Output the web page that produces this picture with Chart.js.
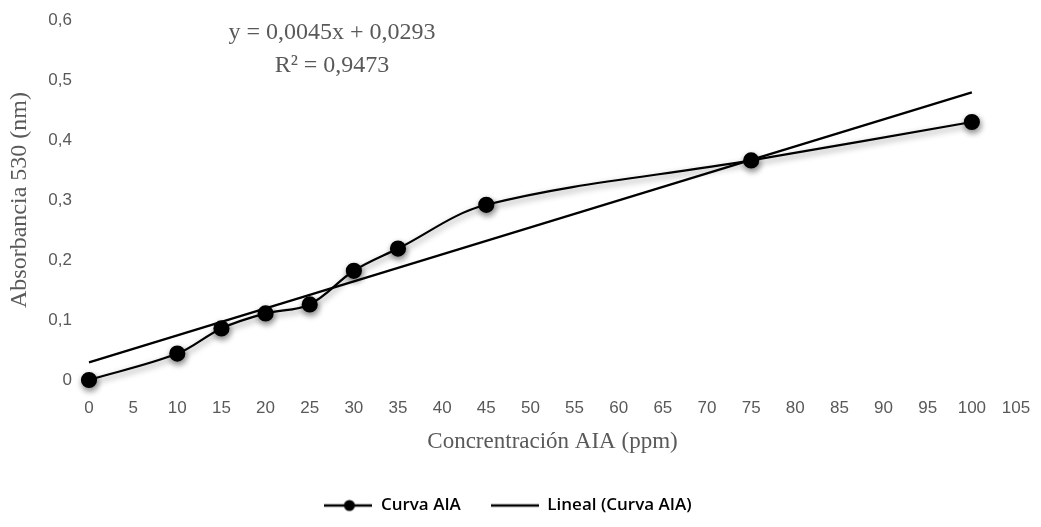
<!DOCTYPE html>
<html><head><meta charset="utf-8">
<script src="https://cdn.jsdelivr.net/npm/chart.js@4"></script>
<style>html,body{margin:0;padding:0;background:#fff}#wrap{width:1041px;height:527px}</style>
</head><body><div id="wrap"><canvas id="c" width="1041" height="527"></canvas></div>
<script>
const concentrations = [0, 10, 15, 20, 25, 30, 35, 45, 75, 100];
const absorbance = [0, 0.044, 0.086, 0.111, 0.126, 0.182, 0.219, 0.292, 0.366, 0.430];
const trendSlope = 0.0045;
const trendIntercept = 0.0293;
const trendRange = [0, 100];
const equationLines = ['y = 0,0045x + 0,0293', 'R² = 0,9473'];
const seriesNames = ['Curva AIA', 'Lineal (Curva AIA)'];
const xTitle = 'Concrentración AIA (ppm)';
const yTitle = 'Absorbancia 530 (nm)';

function legendIcon(withDot){
  const cv = document.createElement('canvas');
  cv.width = 48; cv.height = 14;
  const g = cv.getContext('2d');
  g.strokeStyle = '#000'; g.lineWidth = 2.4;
  g.beginPath(); g.moveTo(0, 7); g.lineTo(48, 7); g.stroke();
  if (withDot){ g.fillStyle = '#000'; g.beginPath(); g.arc(25, 7, 5.5, 0, Math.PI*2); g.fill(); }
  return cv;
}
const icons = [legendIcon(true), legendIcon(false)];

const shadowPlugin = {
  id: 'shadow',
  beforeDatasetDraw(chart, args){
    if (args.index === 0){
      const ctx = chart.ctx; ctx.save();
      ctx.shadowColor = 'rgba(0,0,0,0.45)'; ctx.shadowBlur = 6; ctx.shadowOffsetX = 1; ctx.shadowOffsetY = 3;
    }
  },
  afterDatasetDraw(chart, args){ if (args.index === 0) chart.ctx.restore(); }
};
const eqPlugin = {
  id: 'eq',
  afterDraw(chart){
    const ctx = chart.ctx, a = chart.chartArea;
    ctx.save();
    ctx.font = '24px "Liberation Serif"';
    ctx.fillStyle = '#595959'; ctx.textAlign = 'center'; ctx.textBaseline = 'middle';
    ctx.fillText(equationLines[0], a.left + 243, a.top + 13);
    ctx.fillText(equationLines[1], a.left + 243, a.top + 46);
    ctx.restore();
  }
};

new Chart(document.getElementById('c'), {
  type: 'scatter',
  data: {
    datasets: [
      { label: seriesNames[0],
        data: concentrations.map((x, i) => ({x, y: absorbance[i]})),
        showLine: true, borderColor: '#000', backgroundColor: '#000', borderWidth: 2.2,
        pointRadius: 7, pointHoverRadius: 7, tension: 0.35, clip: false, order: 0 },
      { label: seriesNames[1],
        data: trendRange.map(x => ({x, y: trendSlope * x + trendIntercept})),
        showLine: true, borderColor: '#000', backgroundColor: '#000', borderWidth: 2.2,
        pointRadius: 0, tension: 0, clip: false, order: 1 }
    ]
  },
  options: {
    responsive: false, animation: false, devicePixelRatio: 1,
    layout: { padding: { left: 0, right: 25, top: 20, bottom: 3 } },
    plugins: {
      tooltip: { enabled: false },
      legend: {
        position: 'bottom',
        labels: {
          usePointStyle: true, pointStyleWidth: 48, color: '#000', padding: 30,
          font: { family: '"Open Sans"', size: 17, weight: '600' },
          generateLabels(chart){
            return chart.data.datasets.map((d, i) => ({
              text: d.label, pointStyle: icons[i], datasetIndex: i,
              fontColor: '#000', strokeStyle: '#000', fillStyle: '#000', lineWidth: 0, hidden: false
            }));
          }
        }
      }
    },
    scales: {
      x: {
        type: 'linear', min: 0, max: 105,
        grid: { display: false }, border: { display: false },
        ticks: { stepSize: 5, color: '#595959', font: { family: '"Liberation Sans"', size: 17 }, padding: 10, maxRotation: 0 },
        title: { display: true, text: xTitle, color: '#595959', font: { family: '"Liberation Serif"', size: 23 }, padding: { top: 4, bottom: 11 } },
        afterFit(s){ s.height = 87; }
      },
      y: {
        min: 0, max: 0.6,
        grid: { display: false }, border: { display: false },
        ticks: { stepSize: 0.1, color: '#595959', font: { family: '"Liberation Sans"', size: 17 }, padding: 9,
          callback: v => v === 0 ? '0' : v.toFixed(1).replace('.', ',') },
        title: { display: true, text: yTitle, color: '#595959', font: { family: '"Liberation Serif"', size: 24 }, padding: { top: 5, bottom: 4 } },
        afterFit(s){ s.width = 89; }
      }
    }
  },
  plugins: [shadowPlugin, eqPlugin]
});
</script></body></html>
